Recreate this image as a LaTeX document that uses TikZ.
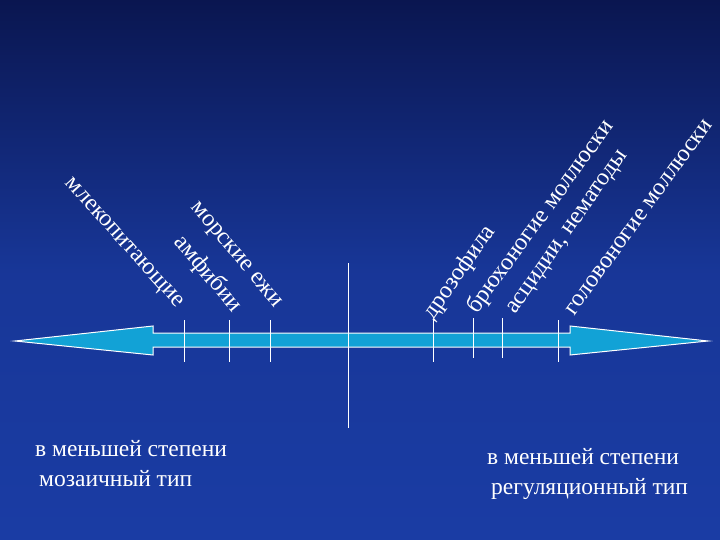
\documentclass[tikz,border=0pt]{standalone}
\usepackage{fontspec}
\setmainfont{Liberation Serif}
\definecolor{bgtop}{HTML}{0A1650}
\definecolor{bgbot}{HTML}{1A3CA4}
\definecolor{arr}{HTML}{12A2D6}
\begin{document}
\begin{tikzpicture}[x=1pt,y=-1pt,
  lbl/.style={text=white,font=\fontsize{24}{26}\selectfont,inner sep=1pt},
  btxt/.style={text=white,font=\fontsize{23.5}{30}\selectfont,align=left,anchor=north west,inner sep=0pt},
  tick/.style={draw=white,line width=0.8pt}]
\shade[top color=bgtop,bottom color=bgbot,middle color=bgbot!85!bgtop] (0,0) rectangle (720,540);
\useasboundingbox (0,0) rectangle (720,540);
% arrow
\draw[white,line width=1pt,fill=arr] (15,341) -- (153,326) -- (153,333) -- (570,333) -- (570,326) -- (708,341)
  -- (570,355) -- (570,347) -- (153,347) -- (153,355) -- cycle;
% ticks
\coordinate (t1a) at (184,320); \coordinate (t1b) at (184,362);
\coordinate (t2a) at (229,320); \coordinate (t2b) at (229,362);
\coordinate (t3a) at (270,320); \coordinate (t3b) at (270,362);
\coordinate (t4a) at (348,263); \coordinate (t4b) at (348,428);
\coordinate (t5a) at (433,320); \coordinate (t5b) at (433,362);
\coordinate (t6a) at (473,318); \coordinate (t6b) at (473,358);
\coordinate (t7a) at (502,318); \coordinate (t7b) at (502,358);
\coordinate (t8a) at (558,320); \coordinate (t8b) at (558,362);
\foreach \i in {1,...,8} \draw[tick] (t\i a) -- (t\i b);
% labels
\node[lbl,rotate=-48,anchor=east] (m1) at (180,307) {млекопитающие};
\node[lbl,rotate=-50,anchor=east] (m2) at (238,310) {амфибии};
\node[lbl,rotate=-50,anchor=east] (m3) at (278,307) {морские ежи};
\node[lbl,rotate=55,anchor=west] (r1) at (428,318) {дрозофила};
\node[lbl,rotate=54,anchor=west] (r2) at (472,312) {брюхоногие моллюски};
\node[lbl,rotate=55,anchor=west] (r3) at (512,314) {асцидии, нематоды};
\node[lbl,rotate=54,anchor=west] (r4) at (569,314) {головоногие моллюски};
\node[btxt] (b1) at (35,440) {в меньшей степени\\\hspace{4pt}мозаичный тип};
\node[btxt] (b2) at (487,448) {в меньшей степени\\\hspace{4pt}регуляционный тип};
\end{tikzpicture}
\end{document}
